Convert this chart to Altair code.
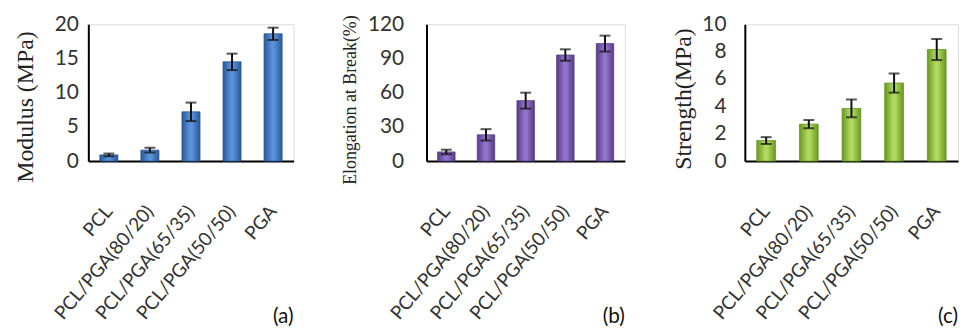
import altair as alt
import pandas as pd

categories = ["PCL", "PCL/PGA(80/20)", "PCL/PGA(65/35)", "PCL/PGA(50/50)", "PGA"]
modulus = [0.9, 1.6, 7.2, 14.5, 18.6]
modulus_err = [0.2, 0.35, 1.35, 1.2, 0.9]
elongation = [8, 23, 53, 93, 103]
elongation_err = [2, 5, 7, 5, 7]
strength = [1.5, 2.7, 3.85, 5.7, 8.15]
strength_err = [0.25, 0.3, 0.65, 0.7, 0.77]

panels = [
    dict(vals=modulus, err=modulus_err, title="Modulus (MPa)", dom=[0, 20], step=5,
         edge="#2b5898", mid="#5a92dc", tag="(a)", w=207, tsize=24, tpad=17, lpad=10, ty=83),
    dict(vals=elongation, err=elongation_err, title="Elongation at Break(%)", dom=[0, 120], step=30,
         edge="#563c86", mid="#9474cc", tag="(b)", w=200, tsize=18, tpad=8, lpad=23, ty=76),
    dict(vals=strength, err=strength_err, title="Strength(MPa)", dom=[0, 10], step=2,
         edge="#67981f", mid="#b2da62", tag="(c)", w=215, tsize=24, tpad=6, lpad=19, ty=75),
]

LABEL_FONT = "Lato"


def panel(p):
    df = pd.DataFrame({
        "cat": categories,
        "v": p["vals"],
        "lo": [v - e for v, e in zip(p["vals"], p["err"])],
        "hi": [v + e for v, e in zip(p["vals"], p["err"])],
    })
    d0, d1 = p["dom"]
    ticks = list(range(d0, d1 + 1, p["step"]))
    x_axis = alt.Axis(labelAngle=-50, labelFont=LABEL_FONT, labelFontSize=19,
                      labelColor="#333333", labelPadding=47, ticks=False,
                      domainColor="#000000", domainWidth=2, labelLimit=300,
                      labelOverlap=False)
    x_scale = alt.Scale(paddingInner=0.56, paddingOuter=0.28)
    y_axis = alt.Axis(values=ticks, grid=False, ticks=False, labelFont=LABEL_FONT,
                      labelFontSize=21, labelColor="#333333", labelPadding=p["lpad"],
                      labelOverlap=False, labelBound=False, labelFlush=False,
                      domainColor="#000000", domainWidth=2,
                      titleFont="Liberation Serif", titleFontSize=p["tsize"],
                      titleFontWeight="normal", titleColor="#222222",
                      titlePadding=p["tpad"], titleY=p["ty"])
    y_scale = alt.Scale(domain=[d0, d1], nice=False)
    xs = alt.X("cat:N", sort=categories, title=None, scale=x_scale, axis=x_axis)
    grad = alt.Gradient(
        gradient="linear", x1=0, x2=1, y1=0, y2=0,
        stops=[alt.GradientStop(color=p["edge"], offset=0),
               alt.GradientStop(color=p["mid"], offset=0.45),
               alt.GradientStop(color=p["mid"], offset=0.55),
               alt.GradientStop(color=p["edge"], offset=1)],
    )
    base = alt.Chart(df)
    bars = base.mark_bar(color=grad, stroke=p["edge"], strokeWidth=0.8).encode(
        x=xs,
        y=alt.Y("v:Q", scale=y_scale, title=p["title"], axis=y_axis),
    )
    rule = base.mark_rule(color="#111111", strokeWidth=2).encode(
        x=xs, y=alt.Y("lo:Q", scale=y_scale, title=p["title"], axis=y_axis), y2="hi:Q")
    cap_lo = base.mark_tick(color="#111111", thickness=2, size=11, orient="horizontal").encode(
        x=xs, y=alt.Y("lo:Q", scale=y_scale, title=p["title"], axis=y_axis))
    cap_hi = base.mark_tick(color="#111111", thickness=2, size=11, orient="horizontal").encode(
        x=xs, y=alt.Y("hi:Q", scale=y_scale, title=p["title"], axis=y_axis))
    return alt.layer(bars, rule, cap_lo, cap_hi).properties(
        width=p["w"], height=138,
        title=alt.TitleParams(p["tag"], orient="bottom", anchor="end", font=LABEL_FONT,
                              fontSize=21, fontWeight="normal", color="#111111", offset=-17),
    )


chart = alt.hconcat(*[panel(p) for p in panels], spacing=46).configure_view(
    stroke="#000000", strokeWidth=1.5
).configure(background="white").properties(
    padding={"left": 5, "top": 3, "right": 5, "bottom": 5}
)

chart.save("out.html", embed_options={"renderer": "svg", "actions": False})
